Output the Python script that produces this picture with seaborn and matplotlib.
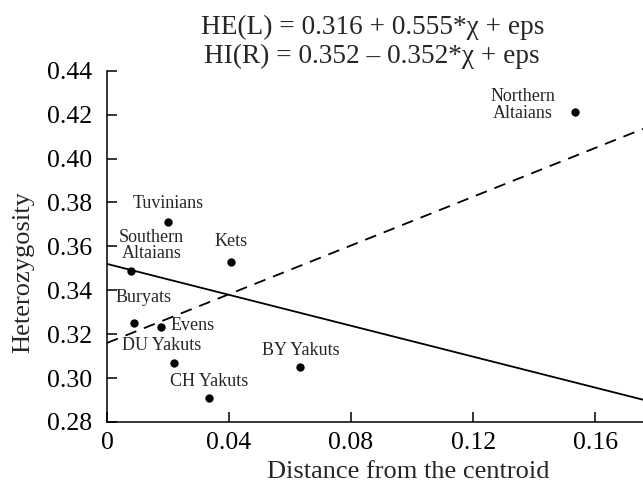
import numpy as np
import matplotlib
matplotlib.use("Agg")
import matplotlib.pyplot as plt
import seaborn as sns

# data
populations = ["Northern\nAltaians", "Tuvinians", "Southern\nAltaians", "Kets", "Buryats",
               "Evens", "DU Yakuts", "CH Yakuts", "BY Yakuts"]
distance = [0.1534, 0.020, 0.008, 0.0406, 0.009, 0.0176, 0.022, 0.0336, 0.0634]
heterozygosity = [0.421, 0.371, 0.349, 0.353, 0.325, 0.3234, 0.307, 0.291, 0.305]

# regression lines
he_coef = (0.316, 0.555)
hi_coef = (0.352, -0.352)

# label offsets (points) and alignment
label_offsets = [(-37.3, 5.3), (0, 13.2), (14.6, 18), (0, 14.4), (6.7, 18.5),
                 (7.4, 1.2), (-8.9, 12.2), (0, 12), (0, 11.7)]
label_ha = ["center", "center", "center", "center", "center", "left", "center", "center", "center"]

sns.set_theme(style="ticks")
plt.rcParams["font.family"] = ["Liberation Serif", "DejaVu Serif"]

fig = plt.figure(figsize=(6.43, 4.83), dpi=100)
ax = fig.add_axes([0.1664, 0.1263, 0.8336, 0.7273])

sns.scatterplot(x=distance, y=heterozygosity, color="black", s=36, linewidth=0, ax=ax, zorder=3)

xmax = 0.1757
xs = np.array([0, xmax])
sns.lineplot(x=xs, y=hi_coef[0] + hi_coef[1] * xs, color="black", lw=1.3, ax=ax)
ax.plot(xs, he_coef[0] + he_coef[1] * xs, color="black", lw=1.3, dashes=(6.5, 4.5))

for name, x, y, off, ha in zip(populations, distance, heterozygosity, label_offsets, label_ha):
    ax.annotate(name, (x, y), xytext=off, textcoords="offset points", ha=ha, va="center",
                fontsize=13, linespacing=0.95)

ax.set_xlim(0, xmax)
ax.set_ylim(0.28, 0.44)
ax.set_xticks([0, 0.04, 0.08, 0.12, 0.16])
ax.set_xticklabels(["0", "0.04", "0.08", "0.12", "0.16"])
yt = np.arange(0.28, 0.4401, 0.02)
ax.set_yticks(yt)
ax.set_yticklabels([f"{v:.2f}" for v in yt])
ax.tick_params(direction="in", length=7, width=1.1, labelsize=18.5, colors="black")
ax.tick_params(axis="y", pad=11)
ax.tick_params(axis="x", pad=7)
sns.despine(ax=ax)
for s in ["left", "bottom"]:
    ax.spines[s].set_color("black")
    ax.spines[s].set_linewidth(1.1)

ax.set_xlabel("Distance from the centroid", fontsize=19, va="center")
ax.xaxis.set_label_coords(0.5616, -0.142)
ax.set_ylabel("Heterozygosity", fontsize=19, va="center")
ax.yaxis.set_label_coords(-0.157, 0.427)

fig.text(0.579, 1 - 27 / 483, "HE(L) = 0.316 + 0.555*χ + eps", ha="center", va="center", fontsize=19.6)
fig.text(0.579, 1 - 56 / 483, "HI(R) = 0.352 – 0.352*χ + eps", ha="center", va="center", fontsize=19.6)

fig.savefig("out.png", dpi=100)
